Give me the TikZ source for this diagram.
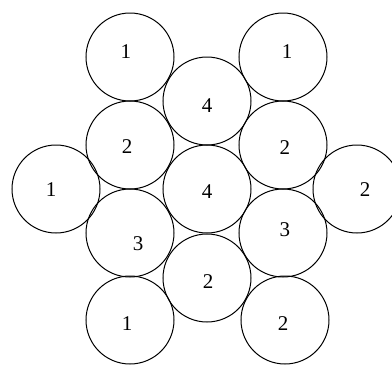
\documentclass[tikz,border=0pt]{standalone}
\usepackage{fontspec}
\setmainfont{Liberation Serif}
\usetikzlibrary{positioning}

\begin{document}
\begin{tikzpicture}[
    x=1pt, y=-1pt,
    disc/.style={
      draw, circle, line width=1pt, inner sep=0pt,
      minimum size=88pt
    },
    num/.style={font=\fontsize{21}{24}\selectfont, inner sep=0pt},
  ]
    \useasboundingbox (0,0) rectangle (392,365);

    % circles
    \node[disc] (c1a) at (130,57) {};
    \node[disc] (c1b) at (283,57) {};
    \node[disc] (c4a) at (207,101) {};
    \node[disc] (c2a) at (130,145) {};
    \node[disc] (c2b) at (283,145) {};
    \node[disc] (c1c) at (56,189) {};
    \node[disc] (c4b) at (207,189) {};
    \node[disc] (c2c) at (357,189) {};
    \node[disc] (c3a) at (130,233) {};
    \node[disc] (c3b) at (283,233) {};
    \node[disc] (c2d) at (207,278) {};
    \node[disc] (c1d) at (130,320) {};
    \node[disc] (c2e) at (285,320) {};

    % numbers
    \node[num] (n1a) at (126,52) {1};
    \node[num] (n1b) at (287,52) {1};
    \node[num] (n4a) at (207,106) {4};
    \node[num] (n2a) at (127,147) {2};
    \node[num] (n2b) at (285,148) {2};
    \node[num] (n1c) at (51,190) {1};
    \node[num] (n4b) at (207,192) {4};
    \node[num] (n2c) at (365,190) {2};
    \node[num] (n3a) at (138,244) {3};
    \node[num] (n3b) at (285,230) {3};
    \node[num] (n2d) at (208,282) {2};
    \node[num] (n1d) at (127,324) {1};
    \node[num] (n2e) at (283,324) {2};
\end{tikzpicture}
\end{document}
